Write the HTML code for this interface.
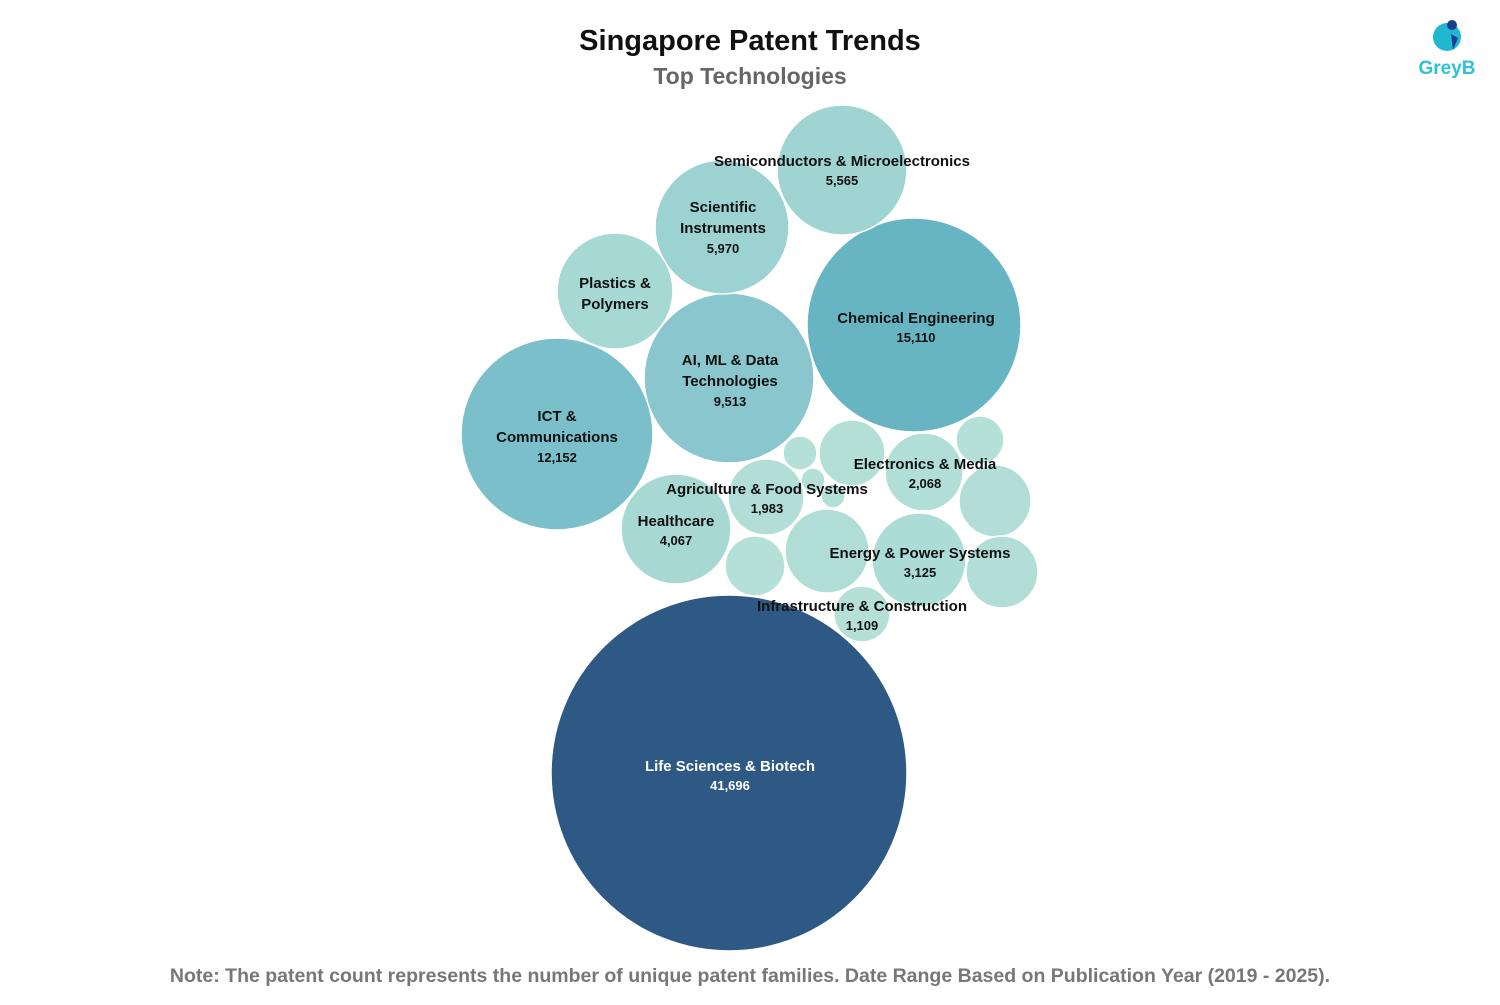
<!DOCTYPE html>
<html><head><meta charset="utf-8"><style>
body{margin:0;background:#fff;}
svg text{font-family:"Liberation Sans","DejaVu Sans",sans-serif;font-weight:bold;}
</style></head><body>
<svg width="1500" height="1000" viewBox="0 0 1500 1000" xmlns="http://www.w3.org/2000/svg">
<rect width="1500" height="1000" fill="#fff"/>
<text x="750" y="50" font-size="29" text-anchor="middle" fill="#111">Singapore Patent Trends</text>
<text x="750" y="84" font-size="23" text-anchor="middle" fill="#666">Top Technologies</text>
<!-- logo -->
<circle cx="1447" cy="37" r="14" fill="#1fb8d0"/>
<circle cx="1452" cy="25" r="5" fill="#1b3f8f"/>
<path d="M1451 34 L1458 38 L1453 50 Z" fill="#1b3f8f"/>
<text x="1447" y="74" font-size="19" text-anchor="middle" fill="#2cc3d6">GreyB</text>
<g stroke="#fff" stroke-width="1.5">
<circle cx="729" cy="773" r="178" fill="#2e5984"/>
<circle cx="914" cy="325" r="107" fill="#67b4c3"/>
<circle cx="557" cy="434" r="96" fill="#7abfca"/>
<circle cx="729" cy="378" r="85" fill="#8ac6ce"/>
<circle cx="722" cy="227" r="67" fill="#9dd2d2"/>
<circle cx="842" cy="170" r="65" fill="#a0d4d3"/>
<circle cx="615" cy="291" r="58" fill="#a6d8d4"/>
<circle cx="676" cy="529" r="55" fill="#a8d8d3"/>
<circle cx="919" cy="560" r="47" fill="#acdcd6"/>
<circle cx="827" cy="551" r="42" fill="#b0ddd6"/>
<circle cx="924" cy="472" r="39" fill="#b1ded7"/>
<circle cx="995" cy="501" r="36" fill="#b2ded7"/>
<circle cx="1002" cy="572" r="36" fill="#b2ded7"/>
<circle cx="766" cy="497" r="38" fill="#b2ded7"/>
<circle cx="852" cy="453" r="33" fill="#b3dfd7"/>
<circle cx="980" cy="440" r="24" fill="#b5e0d8"/>
<circle cx="800" cy="453" r="17" fill="#b5e0d8"/>
<circle cx="813" cy="480" r="12" fill="#b5e0d8"/>
<circle cx="833" cy="496" r="12" fill="#b5e0d8"/>
<circle cx="755" cy="566" r="30" fill="#b4e0d8"/>
<circle cx="862" cy="614" r="28" fill="#b4e0d8"/>
</g>
<g font-size="15" text-anchor="middle" fill="#111">
<text x="842" y="166">Semiconductors &amp; Microelectronics</text>
<text x="842" y="185" font-size="13">5,565</text>
<text x="723" y="212">Scientific</text>
<text x="723" y="233">Instruments</text>
<text x="723" y="253" font-size="13">5,970</text>
<text x="615" y="288">Plastics &amp;</text>
<text x="615" y="309">Polymers</text>
<text x="916" y="323">Chemical Engineering</text>
<text x="916" y="342" font-size="13">15,110</text>
<text x="730" y="365">AI, ML &amp; Data</text>
<text x="730" y="386">Technologies</text>
<text x="730" y="406" font-size="13">9,513</text>
<text x="557" y="421">ICT &amp;</text>
<text x="557" y="442">Communications</text>
<text x="557" y="462" font-size="13">12,152</text>
<text x="925" y="469">Electronics &amp; Media</text>
<text x="925" y="488" font-size="13">2,068</text>
<text x="767" y="494">Agriculture &amp; Food Systems</text>
<text x="767" y="513" font-size="13">1,983</text>
<text x="676" y="526">Healthcare</text>
<text x="676" y="545" font-size="13">4,067</text>
<text x="920" y="558">Energy &amp; Power Systems</text>
<text x="920" y="577" font-size="13">3,125</text>
<text x="862" y="611">Infrastructure &amp; Construction</text>
<text x="862" y="630" font-size="13">1,109</text>
<text x="730" y="771" fill="#fff">Life Sciences &amp; Biotech</text>
<text x="730" y="790" font-size="13" fill="#fff">41,696</text>
</g>
<text x="750" y="982" font-size="19.5" text-anchor="middle" fill="#777">Note: The patent count represents the number of unique patent families. Date Range Based on Publication Year (2019 - 2025).</text>
</svg>
</body></html>
